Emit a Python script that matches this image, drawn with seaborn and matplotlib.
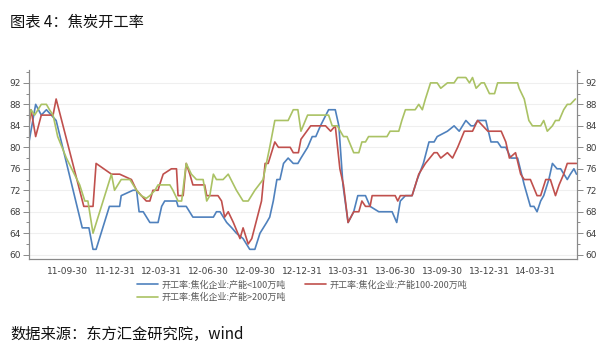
import matplotlib
matplotlib.use("Agg")
import matplotlib.pyplot as plt
from matplotlib.ticker import MultipleLocator
import seaborn as sns
import pandas as pd

# ---------------- data ----------------
series_names = ["开工率:焦化企业:产能<100万吨",
                "开工率:焦化企业:产能100-200万吨",
                "开工率:焦化企业:产能>200万吨"]

small_dates = ["2011-07-16", "2011-07-29", "2011-08-09", "2011-08-19", "2011-09-07", "2011-10-28",
               "2011-11-10", "2011-11-18", "2011-11-24", "2011-12-20", "2012-01-09", "2012-01-12",
               "2012-02-04", "2012-02-11", "2012-02-16", "2012-02-24", "2012-03-08", "2012-03-24",
               "2012-03-31", "2012-04-06", "2012-04-29", "2012-05-02", "2012-05-18", "2012-05-31",
               "2012-07-10", "2012-07-16", "2012-07-23", "2012-08-05", "2012-08-15", "2012-08-24",
               "2012-09-06", "2012-09-19", "2012-09-29", "2012-10-09", "2012-10-22", "2012-10-28",
               "2012-11-04", "2012-11-11", "2012-11-17", "2012-11-24", "2012-12-03", "2012-12-13",
               "2012-12-22", "2012-12-28", "2013-01-10", "2013-01-19", "2013-01-26", "2013-02-04",
               "2013-02-20", "2013-03-05", "2013-03-12", "2013-03-20", "2013-03-30", "2013-04-10",
               "2013-04-18", "2013-05-03", "2013-05-12", "2013-05-29", "2013-06-24", "2013-07-03",
               "2013-07-10", "2013-07-20", "2013-08-02", "2013-08-12", "2013-08-24", "2013-09-04",
               "2013-09-14", "2013-09-20", "2013-10-10", "2013-10-23", "2013-11-02", "2013-11-15",
               "2013-11-25", "2013-12-01", "2013-12-08", "2013-12-24", "2014-01-03", "2014-01-16",
               "2014-01-23", "2014-02-01", "2014-02-11", "2014-02-24", "2014-03-09", "2014-03-21",
               "2014-03-28", "2014-04-03", "2014-04-10", "2014-04-16", "2014-04-26", "2014-05-03",
               "2014-05-12", "2014-05-19", "2014-06-01", "2014-06-07", "2014-06-14", "2014-06-19"]
small_vals = [81, 88, 86, 87, 85, 65,
              65, 61, 61, 69, 69, 71,
              72, 72, 68, 68, 66, 66,
              69, 70, 70, 69, 69, 67,
              67, 68, 68, 66, 65, 64,
              63, 61, 61, 64, 66, 67,
              70, 74, 74, 77, 78, 77,
              77, 78, 80, 82, 82, 84,
              87, 87, 84, 73, 66, 68,
              71, 71, 69, 68, 68, 66,
              70, 71, 71, 74, 77, 81,
              81, 82, 83, 84, 83, 85,
              84, 84, 85, 85, 81, 81,
              80, 80, 78, 78, 73, 69,
              69, 68, 70, 71, 74, 77,
              76, 76, 74, 75, 76, 75]

mid_dates = ["2011-07-16", "2011-07-20", "2011-07-29", "2011-08-09", "2011-09-01", "2011-09-07",
             "2011-10-31", "2011-11-18", "2011-11-24", "2011-12-24", "2012-01-09", "2012-02-01",
             "2012-02-11", "2012-03-01", "2012-03-08", "2012-03-14", "2012-03-24", "2012-03-27",
             "2012-04-03", "2012-04-19", "2012-04-29", "2012-05-02", "2012-05-12", "2012-05-18",
             "2012-05-25", "2012-05-31", "2012-06-23", "2012-06-27", "2012-07-19", "2012-07-26",
             "2012-08-01", "2012-08-08", "2012-08-18", "2012-08-31", "2012-09-06", "2012-09-16",
             "2012-09-23", "2012-10-12", "2012-10-19", "2012-10-25", "2012-11-07", "2012-11-14",
             "2012-12-07", "2012-12-13", "2012-12-23", "2012-12-28", "2013-01-16", "2013-02-14",
             "2013-02-24", "2013-03-05", "2013-03-14", "2013-03-21", "2013-03-30", "2013-04-10",
             "2013-04-20", "2013-04-26", "2013-05-03", "2013-05-12", "2013-05-16", "2013-06-30",
             "2013-07-05", "2013-07-10", "2013-08-02", "2013-08-15", "2013-08-28", "2013-09-14",
             "2013-09-20", "2013-09-27", "2013-10-10", "2013-10-20", "2013-10-30", "2013-11-12",
             "2013-11-28", "2013-12-08", "2013-12-18", "2013-12-28", "2014-01-23", "2014-02-01",
             "2014-02-08", "2014-02-20", "2014-03-02", "2014-03-09", "2014-03-21", "2014-04-03",
             "2014-04-10", "2014-04-20", "2014-04-29", "2014-05-09", "2014-05-16", "2014-05-25",
             "2014-06-01", "2014-06-19"]
mid_vals = [84, 87, 82, 86, 86, 89,
            69, 69, 77, 75, 75, 74,
            72, 70, 70, 72, 72, 73,
            75, 76, 76, 71, 71, 77,
            75, 73, 73, 71, 71, 70,
            67, 68, 66, 63, 65, 62,
            63, 70, 77, 77, 81, 80,
            80, 79, 79, 81.5, 84, 84,
            83, 84, 76, 73, 66, 68,
            68, 70, 69, 69, 71, 71,
            70, 71, 71, 75, 77, 79,
            79, 78, 79, 78, 80, 83,
            83, 85, 84, 83, 83, 81,
            78, 79, 75, 74, 74, 71,
            71, 74, 74, 71, 73, 75,
            77, 77]

large_dates = ["2011-07-16", "2011-07-20", "2011-07-27", "2011-08-09", "2011-08-19", "2011-08-25",
               "2011-09-01", "2011-09-10", "2011-09-27", "2011-10-23", "2011-11-02", "2011-11-08",
               "2011-11-18", "2011-12-24", "2011-12-30", "2012-01-12", "2012-01-29", "2012-02-11",
               "2012-02-20", "2012-03-01", "2012-03-08", "2012-03-18", "2012-03-24", "2012-04-16",
               "2012-04-22", "2012-05-02", "2012-05-09", "2012-05-18", "2012-05-28", "2012-06-07",
               "2012-06-20", "2012-06-27", "2012-07-03", "2012-07-10", "2012-07-16", "2012-07-29",
               "2012-08-08", "2012-08-24", "2012-09-06", "2012-09-16", "2012-09-29", "2012-10-15",
               "2012-10-28", "2012-11-07", "2012-12-03", "2012-12-13", "2012-12-22", "2012-12-28",
               "2013-01-10", "2013-02-20", "2013-02-27", "2013-03-09", "2013-03-21", "2013-03-28",
               "2013-04-10", "2013-04-20", "2013-04-26", "2013-05-03", "2013-05-09", "2013-06-14",
               "2013-06-20", "2013-07-07", "2013-07-13", "2013-07-20", "2013-08-08", "2013-08-15",
               "2013-08-22", "2013-08-28", "2013-09-07", "2013-09-20", "2013-09-27", "2013-10-10",
               "2013-10-23", "2013-10-30", "2013-11-15", "2013-11-22", "2013-11-28", "2013-12-05",
               "2013-12-15", "2013-12-21", "2013-12-31", "2014-01-10", "2014-01-16", "2014-02-24",
               "2014-02-27", "2014-03-09", "2014-03-18", "2014-03-25", "2014-04-10", "2014-04-16",
               "2014-04-23", "2014-05-03", "2014-05-09", "2014-05-16", "2014-05-25", "2014-06-01",
               "2014-06-07", "2014-06-17"]
large_vals = [85, 87, 86, 88, 88, 87,
              86, 82, 78, 73, 70, 70,
              64, 75, 72, 74, 74, 72,
              71, 70.5, 71, 72, 73, 73,
              72, 70, 70, 77, 75, 74,
              74, 70, 71, 75, 74, 74,
              75, 72, 70, 70, 72, 74,
              80, 85, 85, 87, 87, 83,
              86, 86, 84, 84, 82, 82,
              79, 79, 81, 81, 82, 82,
              83, 83, 85, 87, 87, 88,
              87, 89, 92, 92, 91, 92,
              92, 93, 93, 92, 93, 91,
              92, 92, 90, 90, 92, 92,
              91, 89, 85, 84, 84, 85,
              83, 84, 85, 85, 87, 88,
              88, 89]

tick_dates = ["2011-09-30", "2011-12-31", "2012-03-31", "2012-06-30", "2012-09-30", "2012-12-31",
              "2013-03-31", "2013-06-30", "2013-09-30", "2013-12-31", "2014-03-31"]
tick_labels = ["11-09-30", "11-12-31", "12-03-31", "12-06-30", "12-09-30", "12-12-31",
               "13-03-31", "13-06-30", "13-09-30", "13-12-31", "14-03-31"]
y_ticks = [60, 64, 68, 72, 76, 80, 84, 88, 92]

colors = ["#4f81bd", "#c0504d", "#aac264"]

# ---------------- style ----------------
sns.set_style("white")
plt.rcParams['font.family'] = ['DejaVu Sans', 'Noto Sans CJK SC']
cjk = ['Noto Sans CJK SC', 'DejaVu Sans']

frames = []
for name, d, v in zip(series_names, [small_dates, mid_dates, large_dates],
                      [small_vals, mid_vals, large_vals]):
    frames.append(pd.DataFrame({"date": pd.to_datetime(d), "value": v, "series": name}))
df = pd.concat(frames, ignore_index=True)

fig = plt.figure(figsize=(6.04, 3.48), dpi=100)
ax = fig.add_axes([29 / 604, 1 - 259 / 348, (577 - 29) / 604, (259 - 70) / 348])

sns.lineplot(data=df, x="date", y="value", hue="series", hue_order=series_names,
             palette=colors, linewidth=1.2, estimator=None, sort=False, ax=ax)

ax.set_xlim(pd.Timestamp("2011-07-16"), pd.Timestamp("2014-06-20"))
ax.set_ylim(59.2, 94.4)
ax.set_xlabel("")
ax.set_ylabel("")

ax.set_yticks(y_ticks)
ax.yaxis.set_minor_locator(MultipleLocator(2))
ax.set_xticks(pd.to_datetime(tick_dates))
ax.set_xticklabels(tick_labels)
ax.set_xticks(pd.date_range("2011-07-31", "2014-05-31", freq="ME"), minor=True)

ax.yaxis.grid(True, which="major", color="#efefef", linewidth=0.8)
ax.set_axisbelow(True)

ax2 = ax.twinx()
ax2.set_ylim(ax.get_ylim())
ax2.set_yticks(y_ticks)
ax2.yaxis.set_minor_locator(MultipleLocator(2))

spine_color = "#8a8a8a"
for a in (ax, ax2):
    a.spines["top"].set_visible(False)
    for s in ("left", "right", "bottom"):
        a.spines[s].set_color(spine_color)
        a.spines[s].set_linewidth(0.8)
    a.tick_params(which="both", direction="out", color=spine_color, labelsize=6.5,
                  labelcolor="#404040", width=0.7)
    a.tick_params(which="major", length=4, pad=2)
    a.tick_params(which="minor", length=2)

ax.tick_params(axis="y", which="both", left=True, right=False)
ax2.tick_params(axis="y", which="both", right=True, left=False)

# legend
handles, labels = ax.get_legend_handles_labels()
ax.get_legend().remove()
order = [0, 2, 1]
fig.legend([handles[i] for i in order], [labels[i] for i in order],
           loc="center", bbox_to_anchor=(0.5, 1 - 291 / 348), ncol=2, frameon=False,
           prop={"family": cjk, "size": 6.5}, labelcolor="#595959",
           handlelength=2.3, handletextpad=0.35, columnspacing=2.2,
           labelspacing=0.35, borderpad=0)

fig.text(10 / 604, 1 - 22 / 348, "图表 4：焦炭开工率", fontsize=11, va="center",
         ha="left", family=cjk, color="#111111")
fig.text(10 / 604, 1 - 334 / 348, "数据来源：东方汇金研究院，wind", fontsize=11,
         va="center", ha="left", family=cjk, color="#111111")

fig.savefig("out.png", dpi=100)
